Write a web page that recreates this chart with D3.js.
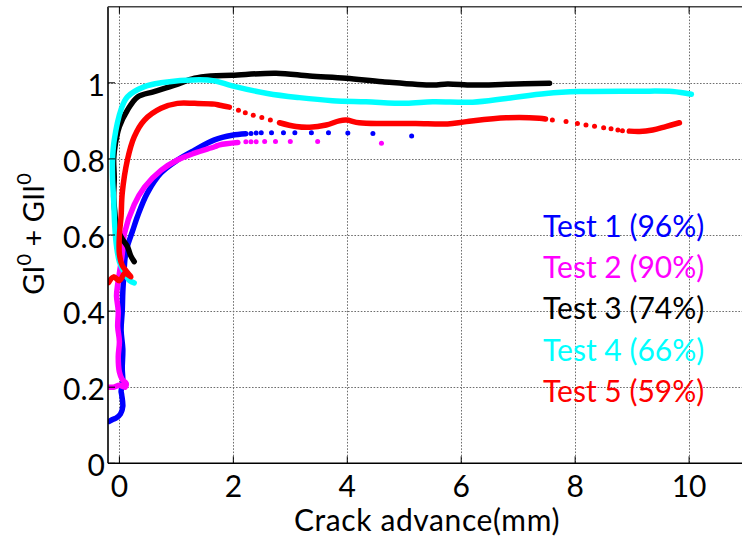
<!DOCTYPE html>
<html>
<head>
<meta charset="utf-8">
<script src="https://cdn.jsdelivr.net/npm/d3@7"></script>
<style>
  html, body { margin: 0; padding: 0; background: #fff; }
  svg { display: block; font-family: Lato, "Open Sans", sans-serif; }
</style>
</head>
<body>
<svg id="chart" width="742" height="540"></svg>
<script>
// Axis ticks
const xTicks = [0, 2, 4, 6, 8, 10];
const xTickLabels = ["0", "2", "4", "6", "8", "10"];
const yTicks = [0, 0.2, 0.4, 0.6, 0.8, 1];
const yTickLabels = ["0", "0.2", "0.4", "0.6", "0.8", "1"];

// Tests: names and colours
const testNames = ["Test 1 (96%)", "Test 2 (90%)", "Test 3 (74%)", "Test 4 (66%)", "Test 5 (59%)"];
const testColors = ["#0000ff", "#ff00ff", "#000000", "#00ffff", "#ff0000"];

// Test 1: continuous readings [crack advance mm, GI0+GII0] and isolated later readings
const test1Trace = [[-0.18,0.11],[-0.12,0.115],[-0.05,0.12],[0.02,0.13],[0.06,0.15],[0.04,0.18],[0.03,0.19],[0.06,0.21],[0.05,0.25],[0.06,0.3],[0.03,0.35],[0.05,0.4],[0.06,0.45],[0.08,0.5],[0.1,0.54],[0.14,0.57],[0.23,0.61],[0.32,0.65],[0.49,0.71],[0.73,0.763],[1.02,0.797],[1.32,0.823],[1.67,0.85],[1.98,0.862],[2.22,0.866]];
const test1Dots = [[2.31,0.867],[2.40,0.868],[2.49,0.869],[2.67,0.869],[2.88,0.869],[3.08,0.869],[3.37,0.869],[3.67,0.869],[4.01,0.868],[4.45,0.867],[5.13,0.86]];

// Test 2
const test2Trace = [[-0.19,0.2],[-0.1,0.2],[0.0,0.205],[0.1,0.2],[0.12,0.21],[0.05,0.22],[0.0,0.24],[-0.02,0.28],[0.0,0.32],[-0.03,0.36],[-0.02,0.4],[-0.05,0.44],[-0.03,0.47],[0.0,0.5],[0.05,0.55],[0.09,0.605],[0.26,0.68],[0.44,0.726],[0.73,0.77],[1.02,0.797],[1.32,0.815],[1.67,0.832],[1.76,0.837],[2.08,0.843]];
const test2Dots = [[2.22,0.845],[2.31,0.845],[2.40,0.845],[2.55,0.846],[2.74,0.846],[3.0,0.846],[3.48,0.846],[4.6,0.841]];

// Test 3
const test3Trace = [[0.26,0.53],[0.2,0.545],[0.14,0.57],[0.05,0.59],[-0.05,0.62],[-0.08,0.66],[-0.1,0.7],[-0.09,0.75],[-0.1,0.8],[-0.07,0.84],[0.0,0.885],[0.14,0.928],[0.32,0.963],[0.61,0.977],[0.97,0.994],[1.32,1.012],[1.61,1.018],[1.98,1.02],[2.75,1.025],[3.34,1.018],[3.98,1.012],[4.62,1.003],[5.5,0.994],[5.76,0.997],[6.2,0.994],[6.79,0.996],[7.55,0.999]];

// Test 4
const test4Trace = [[0.26,0.474],[0.18,0.48],[0.09,0.5],[0.0,0.53],[-0.05,0.57],[-0.08,0.62],[-0.1,0.69],[-0.12,0.75],[-0.12,0.8],[-0.09,0.85],[0.03,0.93],[0.14,0.963],[0.44,0.99],[0.73,1.0],[1.4,1.008],[1.67,1.005],[1.98,0.992],[2.6,0.972],[3.16,0.961],[3.74,0.953],[4.33,0.95],[5.03,0.946],[5.5,0.95],[6.2,0.949],[6.79,0.959],[7.49,0.972],[8.07,0.977],[9.13,0.978],[9.71,0.977],[10.04,0.97]];

// Test 5: three continuous stretches separated by isolated readings
const test5TraceA = [[-0.19,0.475],[-0.1,0.49],[0.0,0.48],[0.1,0.5],[0.2,0.49],[0.05,0.52],[0.0,0.55],[0.0,0.6],[0.03,0.65],[0.05,0.71],[0.14,0.797],[0.26,0.858],[0.44,0.902],[0.73,0.933],[1.02,0.946],[1.32,0.946],[1.67,0.944],[1.76,0.941],[1.93,0.936]];
const test5TraceB = [[2.81,0.895],[3.1,0.885],[3.34,0.883],[3.63,0.889],[3.86,0.9],[3.98,0.902],[4.21,0.895],[4.62,0.893],[5.2,0.893],[5.76,0.892],[6.09,0.898],[6.79,0.908],[7.37,0.907],[7.48,0.905]];
const test5TraceC = [[8.95,0.873],[9.13,0.872],[9.36,0.876],[9.59,0.885],[9.83,0.895]];
const test5Dots = [[2.09,0.928],[2.21,0.921],[2.35,0.915],[2.50,0.909],[2.65,0.902],[7.60,0.902],[7.84,0.898],[8.04,0.893],[8.19,0.889],[8.34,0.886],[8.50,0.882],[8.63,0.879],[8.75,0.876],[8.83,0.874]];

const tests = [
  { traces: [test1Trace], dots: test1Dots },
  { traces: [test2Trace], dots: test2Dots },
  { traces: [test3Trace], dots: [] },
  { traces: [test4Trace], dots: [] },
  { traces: [test5TraceA, test5TraceB, test5TraceC], dots: test5Dots }
];

const svg = d3.select("#chart");
const W = 742, H = 540;
const plotLeft = 108, plotTop = 6.7, plotBottom = 463.3;
const x = d3.scaleLinear().domain([-0.2, 11]).range([plotLeft, plotLeft + 11.2 * 56.97]);
const y = d3.scaleLinear().domain([0, 1.2]).range([plotBottom, plotTop]);

svg.append("rect").attr("width", W).attr("height", H).attr("fill", "#fff");

const plot = svg.append("g");
plot.append("clipPath").attr("id", "clip")
  .append("rect").attr("x", plotLeft).attr("y", plotTop).attr("width", W - plotLeft).attr("height", plotBottom - plotTop);

// Grid
const grid = plot.append("g").attr("stroke", "#6e6e6e").attr("stroke-width", 1).attr("stroke-dasharray", "1.6,1.6");
grid.selectAll("line.v").data(xTicks).join("line")
  .attr("x1", d => Math.round(x(d)) + 0.5).attr("x2", d => Math.round(x(d)) + 0.5)
  .attr("y1", plotTop).attr("y2", plotBottom);
grid.selectAll("line.h").data(yTicks.filter(d => d > 0)).join("line")
  .attr("x1", plotLeft).attr("x2", W)
  .attr("y1", d => Math.round(y(d)) + 0.5).attr("y2", d => Math.round(y(d)) + 0.5);

// Data
const line = d3.line().x(d => x(d[0])).y(d => y(d[1])).curve(d3.curveCatmullRom.alpha(0.5));
const data = plot.append("g").attr("clip-path", "url(#clip)");
tests.forEach((t, i) => {
  const g = data.append("g");
  g.selectAll("path").data(t.traces).join("path")
    .attr("d", line).attr("fill", "none").attr("stroke", testColors[i])
    .attr("stroke-width", 5.5).attr("stroke-linecap", "round").attr("stroke-linejoin", "round");
  g.selectAll("circle").data(t.dots).join("circle")
    .attr("cx", d => x(d[0])).attr("cy", d => y(d[1])).attr("r", 2.5).attr("fill", testColors[i]);
});

// Axes frame and ticks
const axes = svg.append("g").attr("stroke", "#000");
axes.append("line").attr("x1", plotLeft).attr("x2", plotLeft).attr("y1", plotTop).attr("y2", plotBottom).attr("stroke-width", 1.6);
axes.append("line").attr("x1", plotLeft).attr("x2", W).attr("y1", plotBottom).attr("y2", plotBottom).attr("stroke-width", 1.6);
axes.append("line").attr("x1", plotLeft).attr("x2", W).attr("y1", plotTop).attr("y2", plotTop).attr("stroke-width", 1.6).attr("stroke", "#444");
axes.selectAll("line.yt").data(yTicks).join("line")
  .attr("x1", plotLeft).attr("x2", plotLeft + 7).attr("y1", d => y(d)).attr("y2", d => y(d)).attr("stroke-width", 1);
axes.selectAll("line.xtb").data(xTicks).join("line")
  .attr("x1", d => x(d)).attr("x2", d => x(d)).attr("y1", plotBottom).attr("y2", plotBottom - 7).attr("stroke-width", 1);
axes.selectAll("line.xtt").data(xTicks).join("line")
  .attr("x1", d => x(d)).attr("x2", d => x(d)).attr("y1", plotTop).attr("y2", plotTop + 7).attr("stroke-width", 1);

// Tick labels
svg.append("g").selectAll("text").data(yTicks).join("text")
  .attr("x", plotLeft - 3).attr("y", d => y(d) + 13)
  .attr("text-anchor", "end").attr("font-size", 30).attr("fill", "#000")
  .text((d, i) => yTickLabels[i]);
svg.append("g").selectAll("text").data(xTicks).join("text")
  .attr("x", d => x(d)).attr("y", 497)
  .attr("text-anchor", "middle").attr("font-size", 30).attr("fill", "#000")
  .text((d, i) => xTickLabels[i]);

// Axis titles
svg.append("text").attr("x", 427).attr("y", 531).attr("text-anchor", "middle")
  .attr("font-size", 30).attr("letter-spacing", 0.6).attr("fill", "#000").text("Crack advance(mm)");

const yl = svg.append("text").attr("transform", "translate(44,234) rotate(-90)")
  .attr("text-anchor", "middle").attr("font-size", 29).attr("fill", "#000");
yl.append("tspan").text("GI");
yl.append("tspan").attr("dy", -13).attr("font-size", 20).text("0");
yl.append("tspan").attr("dy", 13).text(" + GII");
yl.append("tspan").attr("dy", -13).attr("font-size", 20).text("0");

// Legend
svg.append("g").selectAll("text").data(testNames).join("text")
  .attr("x", 543).attr("y", (d, i) => 237 + i * 41.2)
  .attr("font-size", 30).attr("fill", (d, i) => testColors[i])
  .text(d => d);
</script>
</body>
</html>
